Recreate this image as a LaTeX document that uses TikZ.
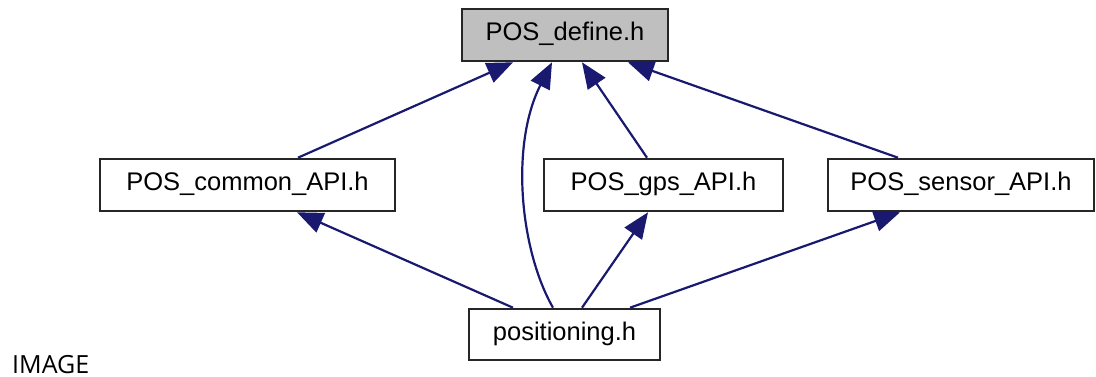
\documentclass[tikz,border=0pt]{standalone}
\usepackage{fontspec}
\setmainfont{Liberation Sans}
\newfontfamily\uifont{Open Sans}
\usetikzlibrary{arrows.meta}
\definecolor{edgeblue}{HTML}{191970}
\definecolor{headfill}{HTML}{BFBFBF}
\begin{document}
\begin{tikzpicture}[x=1pt,y=-1pt,
  filebox/.style={draw=black!85, line width=2.6pt, fill=white, inner sep=0pt,
    minimum height=52pt, text height=18pt, text depth=6pt,
    font=\fontsize{25.5}{30}\selectfont},
  dep/.style={draw=edgeblue, line width=2.2pt,
    -{Triangle[length=26pt,width=21pt]}}]
\useasboundingbox (0,0) rectangle (1096,377);

% header files
\node[filebox, fill=headfill, minimum width=206pt] (def) at (565,35) {POS\_define.h};
\node[filebox, minimum width=295pt] (common) at (247.5,185) {POS\_common\_API.h};
\node[filebox, minimum width=239pt] (gps) at (663.5,185) {POS\_gps\_API.h};
\node[filebox, minimum width=266pt] (sensor) at (961,185) {POS\_sensor\_API.h};
\node[filebox, minimum width=191pt, minimum height=51pt] (pos) at (564.5,334.5) {positioning.h};

% include dependencies
\draw[dep] ([xshift=50.5pt]common.north) -- ([xshift=-52pt]def.south);
\draw[dep] ([xshift=-16.5pt]gps.north) -- ([xshift=17pt]def.south);
\draw[dep] ([xshift=-63pt]sensor.north) -- ([xshift=63pt]def.south);
\draw[dep] ([xshift=-11.5pt]pos.north) .. controls (520,250) and (510,145) .. ([xshift=-13pt]def.south);
\draw[dep] ([xshift=-51.5pt]pos.north) -- ([xshift=49.5pt]common.south);
\draw[dep] ([xshift=17.5pt]pos.north) -- ([xshift=-15.5pt]gps.south);
\draw[dep] ([xshift=65.5pt]pos.north) -- ([xshift=-61pt]sensor.south);

\node[anchor=base west, inner sep=0pt, font=\uifont\fontsize{25}{30}\selectfont] (caption) at (12,373) {IMAGE};
\end{tikzpicture}
\end{document}
